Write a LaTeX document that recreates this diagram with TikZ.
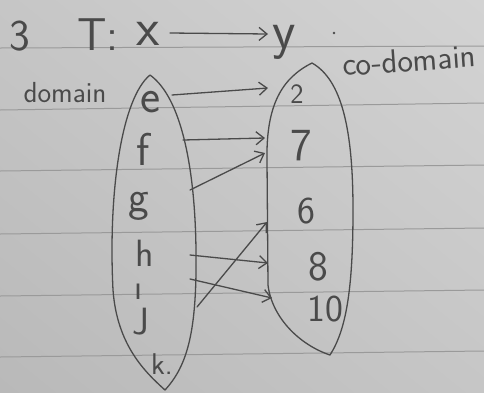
\documentclass[tikz,border=0pt]{standalone}
\usetikzlibrary{arrows.meta,shadings}
\definecolor{paperhi}{HTML}{D3D3D3}
\definecolor{papermid}{HTML}{C6C6C6}
\definecolor{paperlo}{HTML}{B9B9B9}
\definecolor{rule}{HTML}{9A9A9A}
\definecolor{ink}{HTML}{4A4A4A}
\tikzset{
  inkline/.style={draw=ink, line width=1.3pt, line cap=round, line join=round},
  mapsto/.style={inkline, -{Straight Barb[length=8pt,width=13pt,line width=1.3pt]}},
  elem/.style={text=ink, inner sep=0pt, font=\sffamily\fontsize{#1}{#1}\selectfont},
  paperline/.style={draw=rule, line width=1pt},
}
\begin{document}
\begin{tikzpicture}[x=1pt,y=-1pt]
\useasboundingbox (0,0) rectangle (484,392);
% ruled paper
\shade[upper left=papermid, upper right=paperhi, lower left=paperlo, lower right=papermid]
  (0,0) rectangle (484,392);
\foreach \ya/\yb in {48/46, 110/103, 171/165, 234/228, 296/290, 357/351}
  \draw[paperline] (0,\ya) -- (484,\yb);

% heading  3  T : x --> y
\node[elem=44] (three) at (20,36) {3};
\node[elem=46] (T) at (98,35) {T:};
\node[elem=54] (x) at (148,34) {x};
\node[elem=54] (y) at (284,42) {y};
\draw[mapsto] ([shift={(22,-1)}]x.center) -- ([shift={(-16,-8)}]y.center);
\fill[ink] (334,33) circle (1.4pt);

% set names
\node[elem=29] (dom) at (65,93) {domain};
\node[elem=33, rotate=4] (codom) at (409,60) {co-domain};

% domain oval
\draw[inkline] (150,75)
  .. controls (122,98) and (108,190) .. (113,290)
  .. controls (117,345) and (145,372) .. (165,390)
  .. controls (188,365) and (197,330) .. (196,250)
  .. controls (195,170) and (182,98) .. (150,75);
% co-domain oval
\draw[inkline] (312,63)
  .. controls (282,78) and (266,105) .. (267,160)
  -- (268,285)
  .. controls (272,318) and (300,345) .. (330,355)
  .. controls (346,330) and (353,290) .. (353,210)
  .. controls (353,130) and (342,80) .. (312,63);

% domain elements
\node[elem=48] (e) at (151,102) {e};
\node[elem=46] (f) at (143,149) {f};
\node[elem=44] (g) at (139,206) {g};
\node[elem=38] (h) at (145,253) {h};
\node[elem=36] (i) at (139,292) {ı};
\node[elem=38] (j) at (141,322) {J};
\node[elem=30] (k) at (162,364) {k.};

% co-domain elements
\node[elem=28] (two) at (297,94) {2};
\node[elem=46] (seven) at (301,146) {7};
\node[elem=38] (six) at (306,211) {6};
\node[elem=42] (eight) at (318,267) {8};
\node[elem=38] (ten) at (325,309) {10};

% the mapping
\draw[mapsto] ([shift={(21,-7)}]e.center) -- ([shift={(-29,-6)}]two.center);
\draw[mapsto] ([shift={(40,-9)}]f.center) -- ([shift={(-36,-8)}]seven.center);
\draw[mapsto] ([shift={(51,-16)}]g.center) -- ([shift={(-36,7)}]seven.center);
\draw[mapsto] ([shift={(45,2)}]h.center) -- ([shift={(-50,-4)}]eight.center);
\draw[mapsto] ([shift={(51,-13)}]i.center) -- ([shift={(-53,-11)}]ten.center);
\draw[mapsto] ([shift={(56,-15)}]j.center) -- ([shift={(-39,11)}]six.center);
\end{tikzpicture}
\end{document}
